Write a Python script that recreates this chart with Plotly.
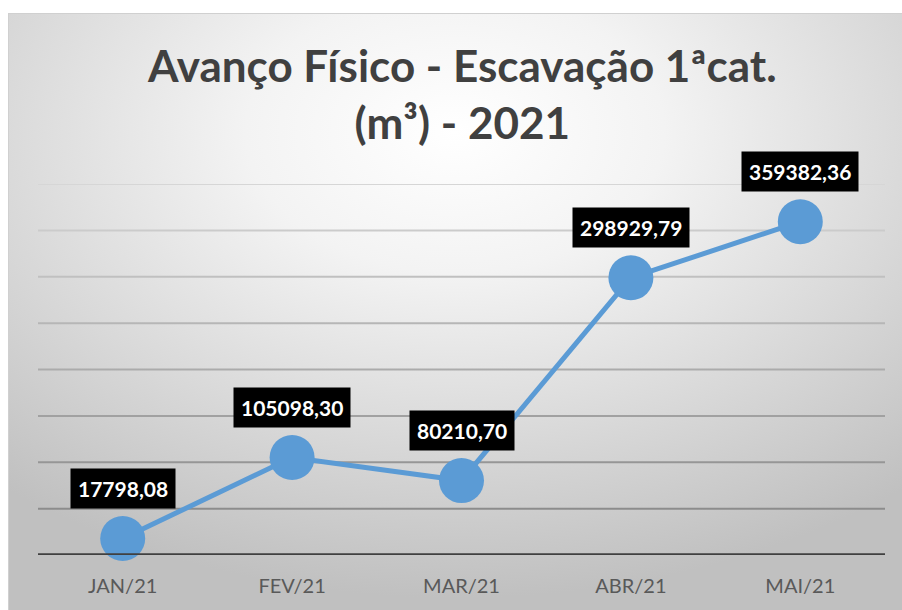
import base64
import plotly.graph_objects as go

categories = ["JAN/21", "FEV/21", "MAR/21", "ABR/21", "MAI/21"]
values = [17798.08, 105098.30, 80210.70, 298929.79, 359382.36]
labels = ["17798,08", "105098,30", "80210,70", "298929,79", "359382,36"]
grid_ticks = [50000, 100000, 150000, 200000, 250000, 300000, 350000, 400000]

W, H = 902, 610
ML, MR, MT, MB = 38, 17, 184, 55
pw, ph = W - ML - MR, H - MT - MB
FX, FY = 8, 13  # top-left corner of the chart frame

fw, fh = W - FX, H - FY
svg = f'''<svg xmlns="http://www.w3.org/2000/svg" width="{fw}" height="{fh}" viewBox="0 0 {fw} {fh}" preserveAspectRatio="none">
<defs><radialGradient id="g" cx="50%" cy="20%" r="78%" gradientUnits="objectBoundingBox">
<stop offset="0" stop-color="#ffffff"/><stop offset="0.3" stop-color="#f3f3f3"/><stop offset="1" stop-color="#c0c0c0"/></radialGradient></defs>
<rect x="0" y="0" width="{fw}" height="{fh}" fill="url(#g)"/>
<line x1="0" y1="0.5" x2="{fw}" y2="0.5" stroke="#d0d0d0" stroke-width="1"/>
<line x1="0.5" y1="0" x2="0.5" y2="{fh}" stroke="#d0d0d0" stroke-width="1"/>
</svg>'''
src = "data:image/svg+xml;base64," + base64.b64encode(svg.encode()).decode()

fig = go.Figure()
fig.add_trace(go.Scatter(
    x=categories, y=values, mode="lines+markers",
    line=dict(color="#5b9bd5", width=5),
    marker=dict(color="#5b9bd5", size=45),
    cliponaxis=False, hoverinfo="skip",
))

for c, v, t in zip(categories, values, labels):
    fig.add_annotation(
        x=c, y=v, text=f"<b>{t}</b>", showarrow=False, yshift=50,
        font=dict(family="Lato", size=21, color="white"),
        bgcolor="black", borderpad=7,
    )

fig.add_annotation(
    text="<b>Avanço Físico - Escavação 1ªcat.<br>(m³) - 2021</b>",
    xref="paper", yref="paper", x=0.5, xanchor="center",
    y=1 + (MT - 93) / ph, yanchor="middle", showarrow=False,
    font=dict(family="Lato", size=44, color="#404040"),
)

n = len(grid_ticks)
shapes = []
for i, t in enumerate(grid_ticks):
    f = i / (n - 1)
    col = int(140 + (214 - 140) * f)
    shapes.append(dict(type="line", xref="paper", yref="y", x0=0, x1=1, y0=t, y1=t,
                       line=dict(color=f"rgb({col},{col},{col})", width=2), layer="below"))
shapes.append(dict(type="line", xref="paper", yref="y", x0=0, x1=1, y0=0, y1=0,
                   line=dict(color="#404040", width=3.5), layer="above"))

fig.update_layout(
    width=W, height=H,
    margin=dict(l=ML, r=MR, t=MT, b=MB),
    paper_bgcolor="white", plot_bgcolor="rgba(0,0,0,0)",
    showlegend=False,
    images=[dict(source=src, xref="paper", yref="paper",
                 x=(FX - ML) / pw, y=1 + (MT - FY) / ph,
                 sizex=fw / pw, sizey=fh / ph,
                 xanchor="left", yanchor="top", sizing="stretch", layer="below")],
    shapes=shapes,
    xaxis=dict(type="category", range=[-0.5, 4.5], showgrid=False, zeroline=False,
               showline=False, ticks="", tickfont=dict(family="Lato", size=20, color="#595959"),
               ticklabelstandoff=17, automargin=False),
    yaxis=dict(range=[0, 400000], showgrid=False, zeroline=False, showticklabels=False,
               showline=False, ticks="", automargin=False),
)

fig.write_html("out.html", config={"displayModeBar": False},
               post_script="document.body.style.margin='0';document.body.style.overflow='hidden';")
